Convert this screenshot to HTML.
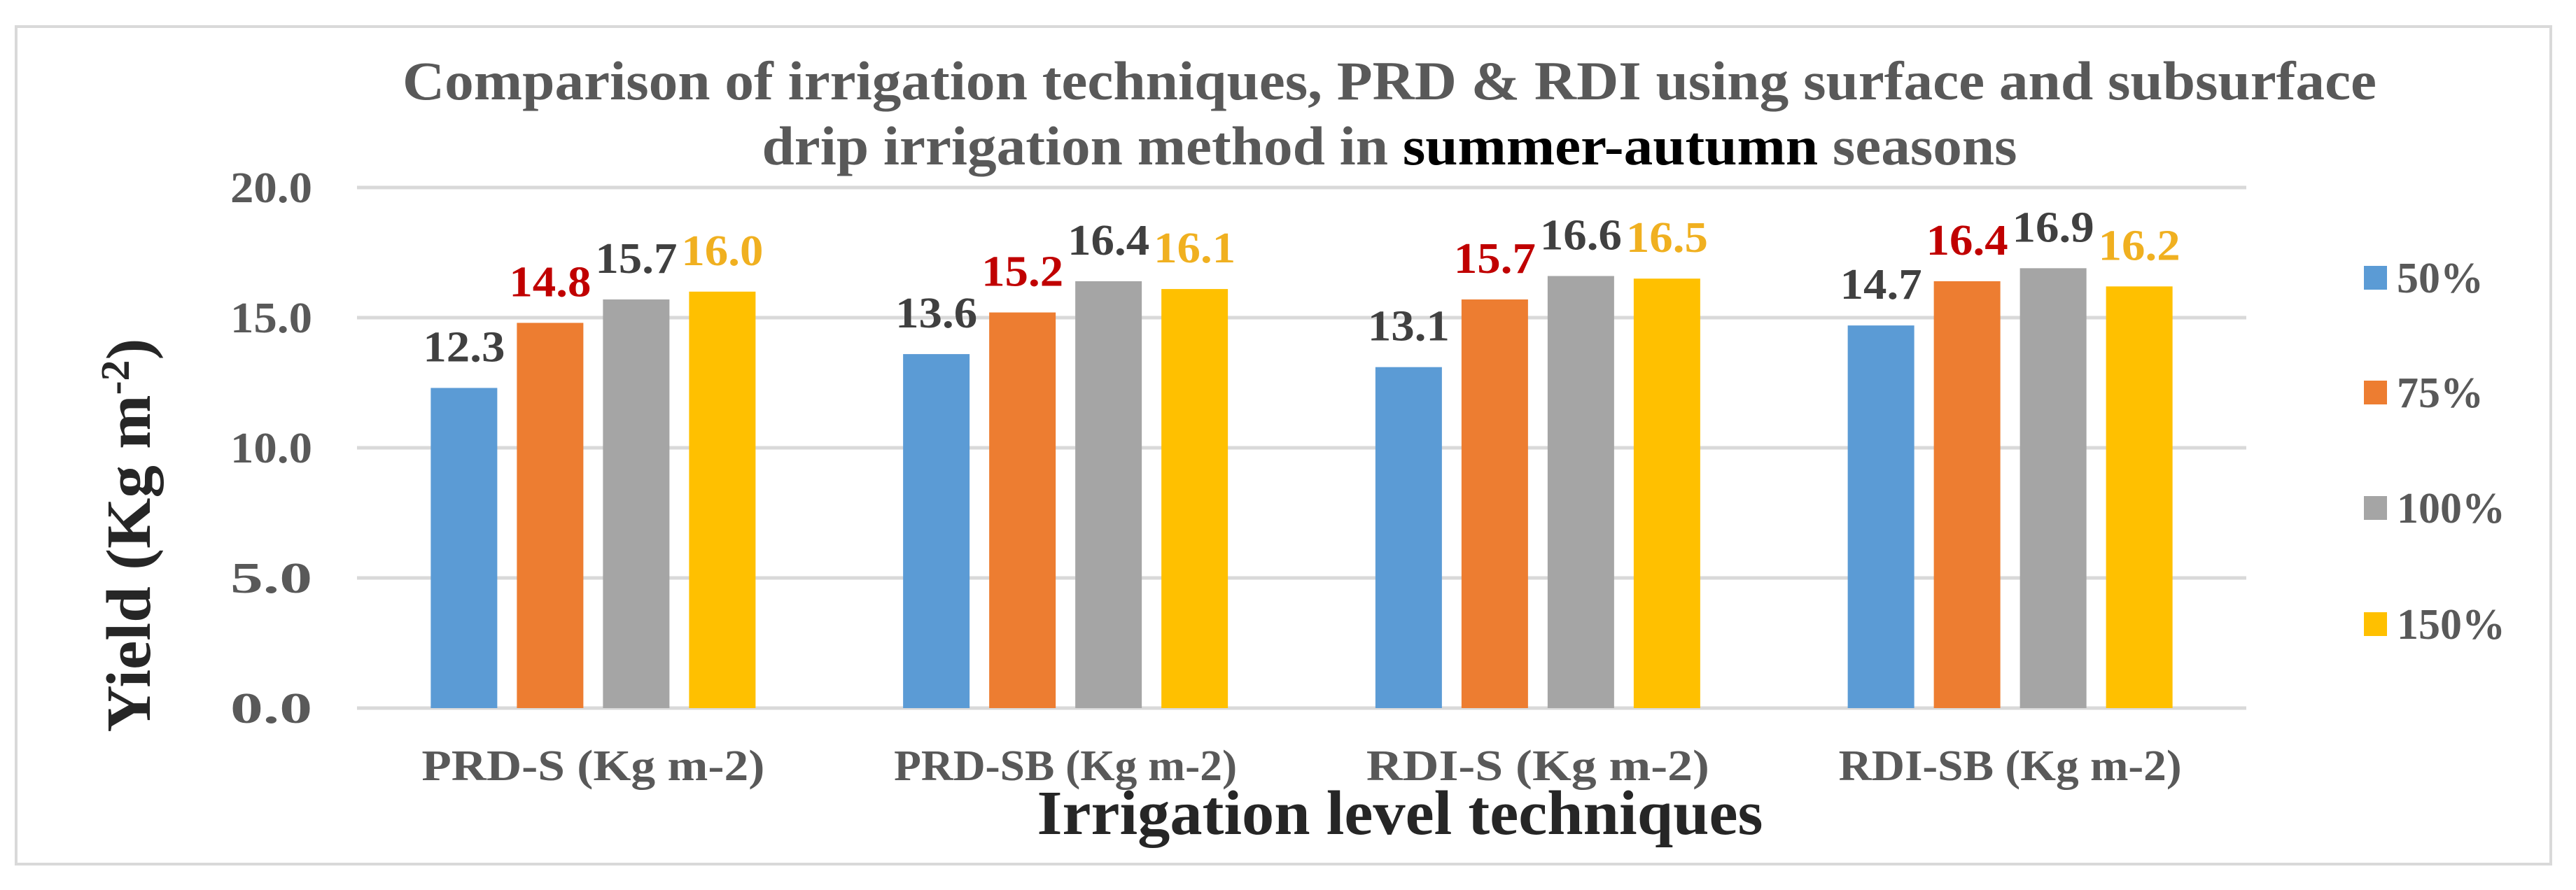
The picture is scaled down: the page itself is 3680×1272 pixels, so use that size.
<!DOCTYPE html>
<html><head><meta charset="utf-8"><style>
html,body{margin:0;padding:0;background:#fff;}
svg{display:block;font-family:"Liberation Serif","Times New Roman",serif;font-weight:bold;}
</style></head><body>
<svg id="chart" width="3680" height="1272" viewBox="0 0 3680 1272" xmlns="http://www.w3.org/2000/svg">
<rect x="23" y="38" width="3621" height="1197" fill="#fff" stroke="#d9d9d9" stroke-width="4"/>
<g fill="#595959" font-size="78">
<text x="1985" y="142" text-anchor="middle" textLength="2820" lengthAdjust="spacingAndGlyphs">Comparison of irrigation techniques, PRD &amp; RDI using surface and subsurface</text>
<text x="1985" y="235" text-anchor="middle" textLength="1793" lengthAdjust="spacingAndGlyphs">drip irrigation method in <tspan fill="#000">summer-autumn</tspan> seasons</text>
</g>
<g id="grid"></g>
<g id="bars"></g>
<g id="labels"></g>
<text x="2000" y="1192" text-anchor="middle" font-size="90" fill="#262626" textLength="1037" lengthAdjust="spacingAndGlyphs">Irrigation level techniques</text>
<text transform="translate(214,765) rotate(-90)" text-anchor="middle" font-size="90" fill="#262626" textLength="563" lengthAdjust="spacingAndGlyphs">Yield (Kg m<tspan dy="-30" font-size="58">-2</tspan><tspan dy="30">)</tspan></text>
<g id="legend"></g>
</svg>
<script>
const categories = ["PRD-S (Kg m-2)", "PRD-SB (Kg m-2)", "RDI-S (Kg m-2)", "RDI-SB (Kg m-2)"];
const seriesNames = ["50%", "75%", "100%", "150%"];
const s50 = [12.3, 13.6, 13.1, 14.7];
const s75 = [14.8, 15.2, 15.7, 16.4];
const s100 = [15.7, 16.4, 16.6, 16.9];
const s150 = [16.0, 16.1, 16.5, 16.2];
const yTicks = [0, 5, 10, 15, 20];

const series = [s50, s75, s100, s150];
const colors = ["#5B9BD5", "#ED7D31", "#A5A5A5", "#FFC000"];
const labelColors = ["#404040", "#C00000", "#404040", "#F0B020"];
const NS = "http://www.w3.org/2000/svg";
const plotL = 510, plotR = 3209, y0 = 1012, y20 = 268;
const yMax = 20;
function yScale(v){ return y0 - (v / yMax) * (y0 - y20); }
const catW = (plotR - plotL) / categories.length;
const barW = 95, barStep = 123;
function xBar(c, s){ return plotL + catW * (c + 0.5) - (barStep * 3 + barW) / 2 + s * barStep; }
function mk(tag, attrs, parent){ const e = document.createElementNS(NS, tag); for (const k in attrs) e.setAttribute(k, attrs[k]); parent.appendChild(e); return e; }

const grid = document.getElementById("grid");
yTicks.forEach(t => {
  const ln = mk("line", {x1: plotL, x2: plotR, y1: yScale(t), y2: yScale(t), stroke: "#d9d9d9", "stroke-width": 5}, grid);
  
  
  const tx = mk("text", {x: 446, y: yScale(t) + 21, "text-anchor": "end", "font-size": 62, fill: "#595959", textLength: 117, lengthAdjust: "spacingAndGlyphs"}, grid);
  tx.textContent = t.toFixed(1);
  
  
});

const bars = document.getElementById("bars");
const labels = document.getElementById("labels");
categories.forEach((cat, c) => {
  series.forEach((arr, s) => {
    const x = xBar(c, s), v = arr[c];
    const r = mk("rect", {x: x, y: yScale(v), width: barW, height: y0 - yScale(v), fill: colors[s]}, bars);
    
    
    const t = mk("text", {x: x + barW / 2, y: yScale(v) - 38, "text-anchor": "middle", "font-size": 62, fill: labelColors[s], textLength: 117, lengthAdjust: "spacingAndGlyphs"}, labels);
    t.textContent = v.toFixed(1);
    
    
  });
  const ct = mk("text", {x: plotL + catW * (c + 0.5), y: 1115, "text-anchor": "middle", "font-size": 62, fill: "#595959", textLength: 490, lengthAdjust: "spacingAndGlyphs"}, labels);
  ct.textContent = cat;
  
  
});

const legend = document.getElementById("legend");
const legY = [397, 561, 726, 892];
seriesNames.forEach((n, i) => {
  const g = mk("g", {}, legend);
  
  
  mk("rect", {x: 3377, y: legY[i] - 17, width: 33, height: 34, fill: colors[i]}, g);
  const t = mk("text", {x: 3424, y: legY[i] + 21, "font-size": 62, fill: "#595959"}, g);
  t.textContent = n;
});
</script>
</body></html>
